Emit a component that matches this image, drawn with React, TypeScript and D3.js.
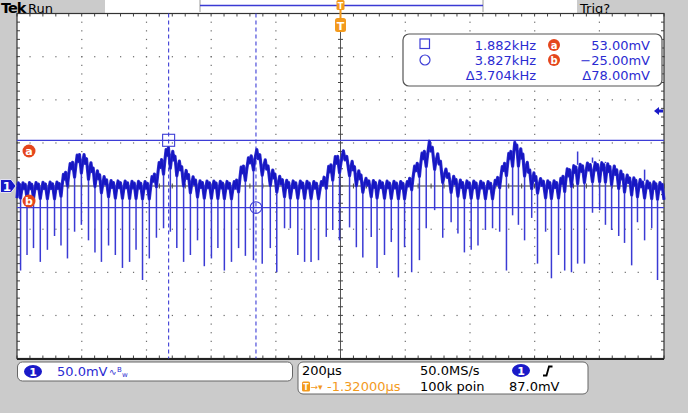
import React from "react";
import * as d3 from "d3";

const W = 688;
const H = 413;

// 200 µs/div, 10 divisions, trigger at centre; 50 mV/div, 8 divisions
const timeDomain = [-1000, 1000];
const voltDomain = [-200, 200];
const timeMajor = 200;
const timeMinor = 40;
const voltMajor = 50;
const voltMinor = 10;

// cursors
const cursorTimes = [-531.3, -261.3]; // µs
const cursorVolts = [53, -25]; // mV
const readoutFreq = ["1.882kHz", "3.827kHz", "Δ3.704kHz"];
const readoutVolt = ["53.00mV", "−25.00mV", "Δ78.00mV"];
const triggerLevel = 87; // mV

// bottom status
const chScale = "50.0mV";
const timeScale = "200µs";
const sampleRate = "50.0MS/s";
const trigOffset = "-1.32000µs";
const recordLen = "100k poin";
const trigLevelText = "87.0mV";

// envelope of the noisy trace (µs, upper mV, lower mV)
const envT = [-1000, -869, -853, -832, -804, -782, -761, -736, -708, -591, -575, -553, -532, -510, -485, -461, -436, -325, -309, -284, -263, -241, -216, -192, -164, -59, -43, -19, 6, 28, 53, 77, 105, 207, 223, 247, 275, 297, 322, 346, 374, 476, 492, 513, 541, 563, 587, 615, 640, 677, 696, 724, 770, 816, 847, 878, 909, 940, 1000];
const envHi = [3.5, 4.7, 16, 28, 40, 33, 21, 12, 6, 5, 16, 33, 47, 36, 21, 12, 6, 5, 21, 33, 44, 35, 21, 12, 6, 5, 19, 33, 42, 33, 19, 9, 6, 5, 19, 35, 52, 40, 21, 12, 6, 5, 16, 33, 52, 40, 19, 9, 6, 6, 19, 24, 27, 27, 23, 14, 9, 6, 3.5];
const envLo = [-14, -15, -5, 7, 16, 9, 0, -9, -14, -15, -5, 10, 23, 14, 0, -9, -14, -15, -2, 12, 21, 12, 0, -9, -14, -15, -2, 9, 19, 12, -2, -10, -14, -15, -2, 13, 28, 16, 0, -9, -14, -15, -2, 12, 28, 16, -2, -10, -15, -14, -5, 2, 5, 5, 0, -7, -12, -14, -16];

// downward spikes (µs, minimum mV)
const spikeT = [-989, -969, -949, -928, -906, -884, -864, -844, -822, -801, -779, -759, -739, -717, -696, -674, -652, -632, -612, -591, -569, -547, -526, -506, -485, -464, -442, -421, -399, -379, -359, -337, -315, -294, -269, -242, -217, -197, -173, -155, -132, -111, -91, -68, -44, -24, -3, 28, 49, 69, 95, 113, 136, 157, 179, 198, 220, 244, 265, 291, 316, 342, 363, 383, 404, 425, 448, 470, 492, 513, 532, 550, 569, 591, 609, 634, 652, 674, 693, 714, 733, 754, 779, 801, 819, 838, 860, 878, 900, 918, 940, 962, 980];
const spikeMin = [-98, -80, -72, -88, -74, -58, -69, -84, -53, -45, -63, -77, -88, -69, -80, -95, -88, -74, -109, -84, -60, -49, -53, -72, -88, -80, -63, -93, -84, -72, -98, -88, -72, -81, -86, -90, -72, -100, -49, -49, -80, -88, -88, -86, -59, -51, -63, -48, -71, -83, -59, -95, -80, -65, -106, -71, -100, -86, -49, -28, -60, -42, -55, -77, -74, -69, -51, -49, -53, -98, -34, -45, -63, -37, -90, -53, -107, -80, -98, -100, -90, -90, -31, -28, -45, -51, -58, -66, -92, -42, -63, -49, -109];

// upward spikes (µs, maximum mV)
const upT = [-982, 733, 779, 819, 940];
const upMax = [4, 40, 33, 28, 19];

const FONT = "'DejaVu Sans', Verdana, sans-serif";
const BLUE_TXT = "#2b2bd2";
const TRACE = "#1616c2";
const SPIKE = "#3a3ad4";
const ORANGE = "#f39a1d";
const RED = "#e5461c";
const GRAY_BG = "#cbcbcb";

export default function App() {
  const L = 17, R = 664, T = 13.5, B = 358.5;
  const x = d3.scaleLinear().domain(timeDomain).range([L, R]);
  const y = d3.scaleLinear().domain(voltDomain).range([B, T]);
  const hiS = d3.scaleLinear().domain(envT).range(envHi);
  const loS = d3.scaleLinear().domain(envT).range(envLo);

  // trace path: ripple between envelope levels between consecutive spikes
  const bounds = [timeDomain[0], ...spikeT, timeDomain[1]];
  const pts: [number, number][] = [];
  for (let i = 0; i < bounds.length - 1; i++) {
    const t0 = bounds[i], t1 = bounds[i + 1];
    const dt = t1 - t0;
    const steps: [number, number][] = [
      [0, 0], [0.15, 0.45], [0.38, 1], [0.55, 0.62], [0.72, 0.9], [0.9, 0.3],
    ];
    for (const [f, k] of steps) {
      const t = t0 + f * dt;
      const hi = hiS(t), lo = loS(t);
      pts.push([x(t), y(lo + k * (hi - lo))]);
    }
  }
  pts.push([x(timeDomain[1]), y(loS(timeDomain[1]))]);
  const line = d3.line();
  const tracePath = line(pts) || "";

  const majorX = d3.range(timeDomain[0], timeDomain[1] + 1, timeMajor);
  const majorY = d3.range(voltDomain[0], voltDomain[1] + 1, voltMajor);
  const minorX = d3.range(timeDomain[0], timeDomain[1] + 1, timeMinor);
  const minorY = d3.range(voltDomain[0], voltDomain[1] + 1, voltMinor);

  const dots: JSX.Element[] = [];
  majorX.slice(1, -1).forEach((tx) => {
    if (tx === 0) return;
    minorY.forEach((v, j) => {
      dots.push(<rect key={`dv${tx}_${j}`} x={x(tx) - 0.5} y={y(v) - 0.5} width={1.2} height={1.2} fill="#6a6a6a" />);
    });
  });
  majorY.slice(1, -1).forEach((v) => {
    if (v === 0) return;
    minorX.forEach((tx, j) => {
      dots.push(<rect key={`dh${v}_${j}`} x={x(tx) - 0.5} y={y(v) - 0.5} width={1.2} height={1.2} fill="#6a6a6a" />);
    });
  });

  const ticks: JSX.Element[] = [];
  minorX.forEach((tx, j) => {
    const px = x(tx);
    ticks.push(<line key={`tt${j}`} x1={px} x2={px} y1={T} y2={T + 3} stroke="#444" strokeWidth={1} />);
    ticks.push(<line key={`tb${j}`} x1={px} x2={px} y1={B - 3} y2={B} stroke="#444" strokeWidth={1} />);
    ticks.push(<line key={`tc${j}`} x1={px} x2={px} y1={y(0) - 2.5} y2={y(0) + 2.5} stroke="#444" strokeWidth={1} />);
  });
  minorY.forEach((v, j) => {
    const py = y(v);
    ticks.push(<line key={`tl${j}`} x1={L} x2={L + 3} y1={py} y2={py} stroke="#444" strokeWidth={1} />);
    ticks.push(<line key={`tr${j}`} x1={R - 3} x2={R} y1={py} y2={py} stroke="#444" strokeWidth={1} />);
    ticks.push(<line key={`tm${j}`} x1={x(0) - 2.5} x2={x(0) + 2.5} y1={py} y2={py} stroke="#444" strokeWidth={1} />);
  });

  const cx1 = x(cursorTimes[0]);
  const cx2 = x(cursorTimes[1]);
  const ya = y(cursorVolts[0]);
  const yb = y(cursorVolts[1]);
  const yTrig = y(triggerLevel);
  const x0 = x(0);

  return (
    <div style={{ position: "absolute", left: 0, top: 0 }}>
      <svg width={W} height={H} style={{ display: "block" }}>
        <rect x={0} y={0} width={W} height={H} fill={GRAY_BG} />
        {/* top status strip */}
        <rect x={105} y={0} width={472} height={T} fill="#ffffff" />
        <text x={1} y={13} fontFamily={FONT} fontWeight="bold" fontSize={14.5} fill="#000" letterSpacing={-1}>Tek</text>
        <text x={28} y={12.5} fontFamily={FONT} fontSize={13} fill="#000">Run</text>
        <text x={580} y={12.5} fontFamily={FONT} fontSize={13} fill="#000">Trig?</text>
        {/* record view bar */}
        <line x1={200} x2={200} y1={0} y2={12} stroke="#9a9a9a" strokeWidth={1} />
        <line x1={483} x2={483} y1={0} y2={12} stroke="#9a9a9a" strokeWidth={1} />
        <line x1={200} x2={483} y1={5.5} y2={5.5} stroke="#3a3ad4" strokeWidth={1.3} />

        {/* plot area */}
        <rect x={L} y={T} width={R - L} height={B - T} fill="#ffffff" />
        {dots}
        <line x1={L} x2={R} y1={y(0)} y2={y(0)} stroke="#333" strokeWidth={1} />
        <line x1={x0} x2={x0} y1={T} y2={B} stroke="#555" strokeWidth={1} />
        {ticks}
        <rect x={L} y={T} width={R - L} height={B - T} fill="none" stroke="#333" strokeWidth={1.2} />
        <line x1={L} x2={R} y1={B + 0.5} y2={B + 0.5} stroke="#222" strokeWidth={2} />

        {/* cursors */}
        <line x1={L} x2={R} y1={ya} y2={ya} stroke="#3d3dd6" strokeWidth={1.2} />
        <line x1={L} x2={R} y1={yb} y2={yb} stroke="#3d3dd6" strokeWidth={1.2} />
        <line x1={cx1} x2={cx1} y1={T} y2={B} stroke="#3d3dd6" strokeWidth={1.1} strokeDasharray="4,3" />
        <line x1={cx2} x2={cx2} y1={T} y2={B} stroke="#3d3dd6" strokeWidth={1.1} strokeDasharray="4,3" />

        {/* spikes */}
        {spikeT.map((t, i) => (
          <line key={`s${i}`} x1={x(t)} x2={x(t)} y1={y(loS(t))} y2={y(spikeMin[i])} stroke={SPIKE} strokeWidth={1.5} />
        ))}
        {upT.map((t, i) => (
          <line key={`u${i}`} x1={x(t)} x2={x(t)} y1={y(hiS(t))} y2={y(upMax[i])} stroke={SPIKE} strokeWidth={1.5} />
        ))}
        {/* trace */}
        <path d={tracePath} fill="none" stroke="#3434d0" strokeWidth={3.2} strokeLinejoin="round" />
        <path d={tracePath} fill="none" stroke={TRACE} strokeWidth={1.8} strokeLinejoin="round" />

        {/* cursor markers */}
        <rect x={cx1 - 6} y={ya - 6} width={12} height={12} fill="none" stroke="#3d3dd6" strokeWidth={1.1} />
        <circle cx={cx2} cy={yb} r={5.8} fill="none" stroke="#3d3dd6" strokeWidth={1.1} />

        {/* a / b labels */}
        <circle cx={29} cy={151} r={6.5} fill={RED} />
        <text x={29} y={155} textAnchor="middle" fontFamily={FONT} fontWeight="bold" fontSize={11} fill="#fff">a</text>
        <circle cx={29} cy={201} r={6.5} fill={RED} />
        <text x={29} y={205} textAnchor="middle" fontFamily={FONT} fontWeight="bold" fontSize={11} fill="#fff">b</text>

        {/* channel 1 ground marker */}
        <path d={`M0.5,${y(0) - 6.5} L11,${y(0) - 6.5} L16,${y(0)} L11,${y(0) + 6.5} L0.5,${y(0) + 6.5} Z`} fill="#1a1ac8" stroke="#fff" strokeWidth={0.8} />
        <text x={7} y={y(0) + 4.5} textAnchor="middle" fontFamily={FONT} fontWeight="bold" fontSize={12} fill="#fff">1</text>

        {/* trigger level marker */}
        <path d={`M654,${yTrig} L659,${yTrig - 4} L659,${yTrig - 1.5} L663,${yTrig - 1.5} L663,${yTrig + 1.5} L659,${yTrig + 1.5} L659,${yTrig + 4} Z`} fill="#1a1ac8" />

        {/* trigger position markers */}
        <line x1={x0} x2={x0} y1={9} y2={20} stroke={ORANGE} strokeWidth={2} />
        <rect x={x0 - 4} y={0} width={8} height={10} rx={1.5} fill={ORANGE} />
        <text x={x0} y={8.5} textAnchor="middle" fontFamily={FONT} fontWeight="bold" fontSize={8} fill="#fff">T</text>
        <rect x={x0 - 5.5} y={18} width={11} height={14} rx={2.5} fill={ORANGE} />
        <text x={x0} y={29.5} textAnchor="middle" fontFamily={FONT} fontWeight="bold" fontSize={11} fill="#fff">T</text>

        {/* cursor readout */}
        <rect x={403} y={34} width={259} height={52} rx={6} fill="#fff" stroke="#555" strokeWidth={1.2} />
        <rect x={420} y={39} width={9.5} height={9.5} fill="none" stroke="#3d3dd6" strokeWidth={1.2} />
        <circle cx={425} cy={60} r={5} fill="none" stroke="#3d3dd6" strokeWidth={1.2} />
        {readoutFreq.map((s, i) => (
          <text key={`rf${i}`} x={536} y={50 + i * 15} textAnchor="end" fontFamily={FONT} fontSize={13} fill={BLUE_TXT}>{s}</text>
        ))}
        <circle cx={554} cy={45} r={6} fill={RED} />
        <text x={554} y={49} textAnchor="middle" fontFamily={FONT} fontWeight="bold" fontSize={10} fill="#fff">a</text>
        <circle cx={554} cy={60} r={6} fill={RED} />
        <text x={554} y={64} textAnchor="middle" fontFamily={FONT} fontWeight="bold" fontSize={10} fill="#fff">b</text>
        {readoutVolt.map((s, i) => (
          <text key={`rv${i}`} x={650} y={50 + i * 15} textAnchor="end" fontFamily={FONT} fontSize={13} fill={BLUE_TXT}>{s}</text>
        ))}

        {/* bottom: channel panel */}
        <rect x={17.5} y={362} width={275} height={19} rx={5} fill="#fff" stroke="#666" strokeWidth={1} />
        <ellipse cx={33} cy={371.5} rx={9} ry={6.5} fill="#1a1ac8" />
        <text x={33} y={375.5} textAnchor="middle" fontFamily={FONT} fontWeight="bold" fontSize={11} fill="#fff">1</text>
        <text x={57} y={376} fontFamily={FONT} fontSize={13} fill={BLUE_TXT}>{chScale}</text>
        <text x={109} y={375} fontFamily={FONT} fontSize={9} fill={BLUE_TXT}>∿</text>
        <text x={117} y={372} fontFamily={FONT} fontSize={7} fill={BLUE_TXT}>B</text>
        <text x={122} y={377} fontFamily={FONT} fontSize={7} fill={BLUE_TXT}>w</text>

        {/* bottom: timebase/trigger panel */}
        <rect x={298} y={362} width={290} height={32} rx={5} fill="#fff" stroke="#666" strokeWidth={1} />
        <text x={302} y={375} fontFamily={FONT} fontSize={13} fill="#000">{timeScale}</text>
        <text x={420} y={375} fontFamily={FONT} fontSize={13} fill="#000">{sampleRate}</text>
        <ellipse cx={521} cy={370.5} rx={9} ry={6.5} fill="#1a1ac8" />
        <text x={521} y={374.5} textAnchor="middle" fontFamily={FONT} fontWeight="bold" fontSize={11} fill="#fff">1</text>
        <path d="M543,375.5 L546.5,375.5 L549,366.5 L552.5,366.5" fill="none" stroke="#000" strokeWidth={1.8} />
        <rect x={302} y={381.5} width={8} height={10} rx={1.5} fill={ORANGE} />
        <text x={306} y={390} textAnchor="middle" fontFamily={FONT} fontWeight="bold" fontSize={8} fill="#fff">T</text>
        <text x={310.5} y={390} fontFamily={FONT} fontSize={9} fill={ORANGE}>→▾</text>
        <text x={327} y={391} fontFamily={FONT} fontSize={13} fill={ORANGE}>{trigOffset}</text>
        <text x={420} y={391} fontFamily={FONT} fontSize={13} fill="#000">{recordLen}</text>
        <text x={509} y={391} fontFamily={FONT} fontSize={13} fill="#000">{trigLevelText}</text>
      </svg>
    </div>
  );
}
